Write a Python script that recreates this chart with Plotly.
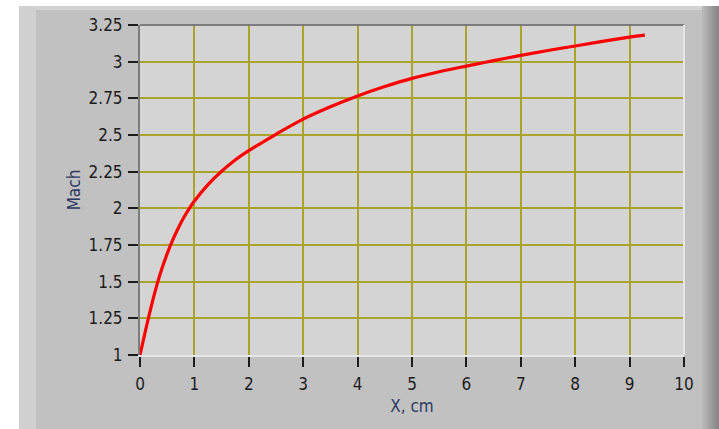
import plotly.graph_objects as go

# Mach number along the nozzle axis
x_cm = [0, 0.08, 0.153, 0.25, 0.32, 0.4, 0.5, 0.6, 0.7, 0.8, 0.91, 1.0, 1.25, 1.5, 1.75,
        2.0, 2.5, 3.0, 3.5, 4.0, 4.5, 5.0, 5.5, 6.0, 6.5, 7.0, 7.5, 8.0, 8.5, 9.0, 9.28]
mach = [1.0, 1.132, 1.249, 1.395, 1.49, 1.586, 1.691, 1.783, 1.863, 1.934, 2.002, 2.05,
        2.162, 2.253, 2.33, 2.393, 2.505, 2.608, 2.692, 2.766, 2.83, 2.886, 2.931, 2.97,
        3.007, 3.043, 3.076, 3.107, 3.138, 3.167, 3.181]

x_ticks = [0, 1, 2, 3, 4, 5, 6, 7, 8, 9, 10]
x_tick_text = ["0", "1", "2", "3", "4", "5", "6", "7", "8", "9", "10"]
y_ticks = [1, 1.25, 1.5, 1.75, 2, 2.25, 2.5, 2.75, 3, 3.25]
y_tick_text = ["1", "1.25", "1.5", "1.75", "2", "2.25", "2.5", "2.75", "3", "3.25"]

W, H = 719, 429
L, R, T, B = 140, 35, 25, 74
pw, ph = W - L - R, H - T - B


def px(x):
    return (x - L) / pw


def py(y):
    return (H - B - y) / ph


font_fam = "DejaVu Sans Condensed, Liberation Sans Narrow, Liberation Sans, sans-serif"
grid_col = "#aaa42a"

fig = go.Figure(go.Scatter(
    x=x_cm, y=mach, mode="lines",
    line=dict(color="#ff0000", width=3.2, shape="spline", smoothing=1.0),
    hoverinfo="skip",
))

shapes = [
    # outer panel pieces
    dict(type="rect", xref="paper", yref="paper", x0=px(0), x1=px(W), y0=py(0), y1=py(6),
         fillcolor="#ffffff", line_width=0, layer="below"),
    dict(type="rect", xref="paper", yref="paper", x0=px(0), x1=px(19), y0=py(0), y1=py(H),
         fillcolor="#ffffff", line_width=0, layer="below"),
    dict(type="rect", xref="paper", yref="paper", x0=px(19), x1=px(W), y0=py(6), y1=py(10),
         fillcolor="#d2d2d2", line_width=0, layer="below"),
    dict(type="rect", xref="paper", yref="paper", x0=px(19), x1=px(36), y0=py(6), y1=py(H),
         fillcolor="#d0d0d0", line_width=0, layer="below"),
]
# darker shaded right edge
edge_cols = ["#b8b8b8", "#b0b0b0", "#a8a8a8", "#a0a0a0", "#989898", "#909090", "#888888"]
step = (W - 702) / len(edge_cols)
for i, c in enumerate(edge_cols):
    shapes.append(dict(type="rect", xref="paper", yref="paper",
                       x0=px(702 + i * step), x1=px(702 + (i + 1) * step + 2),
                       y0=py(6), y1=py(H + 4), fillcolor=c, line_width=0, layer="below"))
# sunken frame around the plot area
shapes += [
    dict(type="line", xref="paper", yref="paper", x0=0, x1=1, y0=1, y1=1,
         line=dict(color="#7c7c7c", width=2)),
    dict(type="line", xref="paper", yref="paper", x0=1, x1=1, y0=0, y1=1,
         line=dict(color="#e6e6e6", width=2)),
]

fig.update_layout(
    width=W, height=H,
    margin=dict(l=L, r=R, t=T, b=B),
    paper_bgcolor="#c1c1c1",
    plot_bgcolor="#d4d4d4",
    showlegend=False,
    shapes=shapes,
    font=dict(family=font_fam, size=17, color="#1c1c1c"),
)

fig.update_xaxes(
    range=[0, 10], tickvals=x_ticks, ticktext=x_tick_text,
    showgrid=True, gridcolor=grid_col, gridwidth=2,
    zeroline=False, showline=True, linecolor="#e6e6e6", linewidth=2,
    ticks="outside", ticklen=10, tickwidth=2, tickcolor="#1c1c1c",
    ticklabelstandoff=3,
    title=dict(text="X, cm", font=dict(family=font_fam, size=17, color="#2e3a62"), standoff=7),
)
fig.update_yaxes(
    range=[1, 3.25], tickvals=y_ticks, ticktext=y_tick_text,
    showgrid=True, gridcolor=grid_col, gridwidth=2,
    zeroline=False, showline=True, linecolor="#7c7c7c", linewidth=2,
    ticks="outside", ticklen=10, tickwidth=2, tickcolor="#1c1c1c",
    ticklabelstandoff=2,
    title=dict(text="Mach", font=dict(family=font_fam, size=17, color="#2e3a62"), standoff=4),
)

fig.write_html(
    "out.html",
    config={"displayModeBar": False},
    post_script="document.body.style.margin='0';document.body.style.background='#c1c1c1';",
)
